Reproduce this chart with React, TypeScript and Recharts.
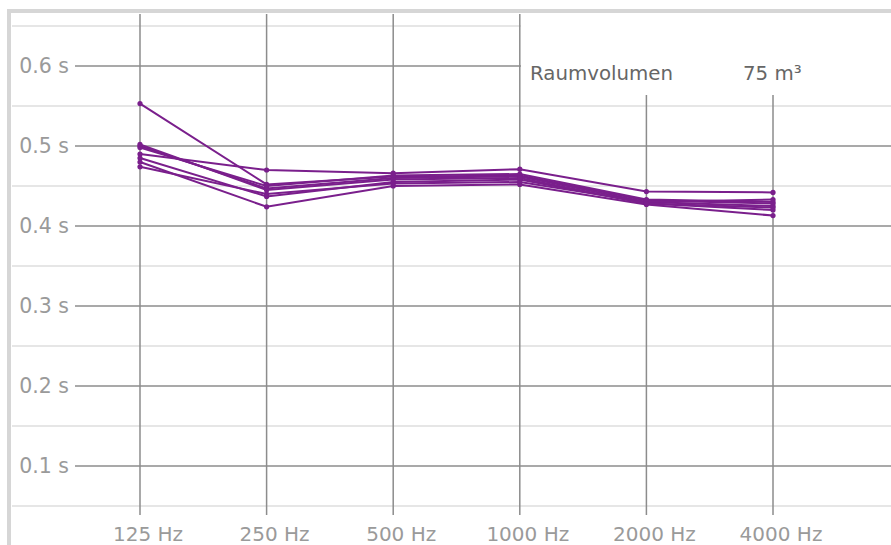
import React from 'react';
import { LineChart, Line, XAxis, YAxis, ReferenceLine } from 'recharts';

// Nachhallzeit je Oktavband, mehrere Messpositionen
const categories = ['125 Hz', '250 Hz', '500 Hz', '1000 Hz', '2000 Hz', '4000 Hz'];
const pos1 = [0.553, 0.452, 0.462, 0.463, 0.432, 0.428];
const pos2 = [0.5, 0.447, 0.46, 0.462, 0.43, 0.425];
const pos3 = [0.498, 0.45, 0.463, 0.465, 0.433, 0.43];
const pos4 = [0.49, 0.47, 0.466, 0.471, 0.443, 0.442];
const pos5 = [0.485, 0.437, 0.455, 0.458, 0.428, 0.42];
const pos6 = [0.48, 0.424, 0.45, 0.452, 0.427, 0.413];
const pos7 = [0.474, 0.44, 0.453, 0.455, 0.43, 0.433];
const pos8 = [0.502, 0.445, 0.458, 0.46, 0.428, 0.423];
const seriesList = [pos1, pos2, pos3, pos4, pos5, pos6, pos7, pos8];

const majorTicks = [0.1, 0.2, 0.3, 0.4, 0.5, 0.6];
const minorTicks = [0.05, 0.15, 0.25, 0.35, 0.45, 0.55, 0.65];
const roomLabel = 'Raumvolumen';
const roomVolume = '75 m³';

const data = categories.map((c, i) => {
  const row: Record<string, number | string> = { idx: i, name: c };
  seriesList.forEach((s, k) => {
    row[`p${k}`] = s[i];
  });
  return row;
});

const PURPLE = '#7a1f8c';
const FONT = '"DejaVu Sans", Verdana, sans-serif';
const X_DOMAIN: [number, number] = [-0.5134, 5.932];
const X_LEFT_EDGE = -1.011;
const Y_DOMAIN: [number, number] = [0.03875, 0.665];

export default function App() {
  return (
    <div style={{ position: 'absolute', left: 0, top: 0, width: 891, height: 545, background: '#fff', overflow: 'hidden' }}>
      <div
        style={{
          position: 'absolute',
          left: 7,
          top: 9,
          width: 891,
          height: 545,
          borderLeft: '4px solid #d6d6d6',
          borderTop: '4px solid #d6d6d6',
        }}
      />
      <div style={{ position: 'absolute', left: 0, top: 0 }}>
        <LineChart width={891} height={545} data={data} margin={{ top: 14, right: 0, bottom: 0, left: 12 }}>
          <XAxis
            dataKey="idx"
            type="number"
            domain={X_DOMAIN}
            allowDataOverflow
            ticks={[0, 1, 2, 3, 4, 5]}
            tickFormatter={(v: number) => categories[v]}
            axisLine={false}
            tickLine={false}
            height={30}
            tick={(p: any) => (
              <text x={p.x} y={p.y} dx={8} dy={18} textAnchor="middle" fill="#9a9a9a" fontSize={20} fontFamily={FONT}>
                {categories[p.payload.value]}
              </text>
            )}
          />
          <YAxis
            type="number"
            domain={Y_DOMAIN}
            allowDataOverflow
            ticks={majorTicks}
            width={63}
            axisLine={false}
            tickLine={false}
            tick={(p: any) => (
              <text x={69} y={p.y} dy={7} textAnchor="end" fill="#9a9a9a" fontSize={20.5} fontFamily={FONT}>
                {`${Number(p.payload.value).toFixed(1)} s`}
              </text>
            )}
          />
          {minorTicks.map((v) => (
            <ReferenceLine
              key={`mi${v}`}
              segment={[
                { x: X_LEFT_EDGE, y: v },
                { x: X_DOMAIN[1], y: v },
              ]}
              stroke="#e6e6e6"
              strokeWidth={2}
              ifOverflow="visible"
            />
          ))}
          {majorTicks.map((v) => (
            <ReferenceLine key={`ma${v}`} y={v} stroke="#8c8c8c" strokeWidth={1.5} ifOverflow="visible" />
          ))}
          {categories.map((c, i) => (
            <ReferenceLine
              key={c}
              segment={[
                { x: i, y: Y_DOMAIN[0] },
                { x: i, y: Y_DOMAIN[1] },
              ]}
              stroke="#8c8c8c"
              strokeWidth={1.5}
              ifOverflow="visible"
            />
          ))}
          {seriesList.map((s, k) => (
            <Line
              key={k}
              dataKey={`p${k}`}
              stroke={PURPLE}
              strokeWidth={2}
              dot={{ r: 2.6, fill: PURPLE, stroke: 'none' }}
              activeDot={false}
              isAnimationActive={false}
            />
          ))}
        </LineChart>
      </div>
      <div
        style={{
          position: 'absolute',
          left: 521,
          top: 14,
          width: 370,
          height: 81,
          background: '#fff',
          fontFamily: FONT,
          fontSize: 19.8,
          color: '#666',
        }}
      >
        <span style={{ position: 'absolute', left: 9, top: 48, whiteSpace: 'nowrap' }}>{roomLabel}</span>
        <span style={{ position: 'absolute', left: 222, top: 48, whiteSpace: 'nowrap' }}>{roomVolume}</span>
      </div>
    </div>
  );
}
